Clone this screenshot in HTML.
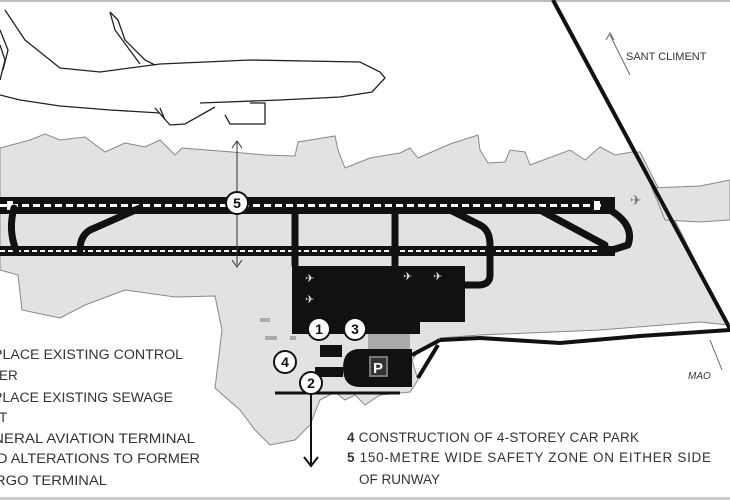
<!DOCTYPE html>
<html><head><meta charset="utf-8"><style>
html,body{margin:0;padding:0;background:#fff;width:730px;height:500px;overflow:hidden}
svg{display:block}
text{font-family:"Liberation Sans",sans-serif;fill:#333}
</style></head><body>
<svg width="730" height="500" viewBox="0 0 730 500" xmlns="http://www.w3.org/2000/svg">
<rect x="0" y="0" width="730" height="2" fill="#bbb"/>
<rect x="0" y="497" width="730" height="3" fill="#ccc"/>
<path d="M0,148 L30,140 L45,134 L60,140 L85,137 L105,152 L125,143 L145,147 L160,140 L175,155 L182,148 L232,152 L265,155 L295,156 L298,142 L335,136 L338,150 L345,168 L370,158 L400,153 L410,148 L418,158 L450,144 L478,135 L480,150 L488,163 L505,162 L510,150 L525,152 L530,165 L570,150 L585,160 L600,147 L615,155 L632,152 L640,152 L728,325 L700,322 L600,330 L480,335 L440,338 L420,350 L412,360 L418,380 L410,392 L380,395 L365,405 L355,395 L345,400 L335,392 L320,400 L310,425 L295,440 L270,445 L255,430 L240,410 L215,388 L222,330 L215,296 L175,297 L125,290 L85,305 L60,318 L22,310 L18,275 L0,270 Z" fill="#e2e2e2" stroke="#888" stroke-width="1"/>
<path d="M652,188 L700,186 L730,180 L730,220 L700,222 L665,220 Z" fill="#e2e2e2" stroke="#888"/>
<rect x="0" y="197" width="615" height="17" fill="#111"/>
<line x1="0" y1="205.5" x2="605" y2="205.5" stroke="#fff" stroke-width="3" stroke-dasharray="7,4"/>
<rect x="7" y="201" width="6" height="9" fill="#fff"/>
<rect x="594" y="201" width="6" height="9" fill="#fff"/>
<rect x="0" y="246" width="615" height="10" fill="#111"/>
<line x1="0" y1="251" x2="600" y2="251" stroke="#fff" stroke-width="2" stroke-dasharray="5,3"/>
<g fill="none" stroke="#111" stroke-width="7" stroke-linejoin="round" stroke-linecap="round">
<path d="M14,208 Q8,230 16,250"/>
<path d="M140,208 L90,230 Q80,236 80,250"/>
<path d="M295,210 L295,265"/>
<path d="M395,210 L395,265"/>
<path d="M450,210 L480,225 Q490,230 490,245 L490,275 Q490,285 478,285 L465,285"/>
<path d="M540,210 L605,245"/>
<path d="M610,210 Q635,225 628,245 L612,250"/>
</g>
<line x1="553" y1="0" x2="728" y2="325" stroke="#111" stroke-width="4"/>
<line x1="728" y1="325" x2="730" y2="330" stroke="#111" stroke-width="4"/>
<path d="M440,340 L480,338 L560,343 L640,336 L730,330" fill="none" stroke="#111" stroke-width="4"/>
<path d="M412,355 L440,340 M418,378 L438,345" stroke="#111" stroke-width="4" fill="none"/>
<rect x="292" y="266" width="173" height="56" fill="#111"/>
<rect x="292" y="320" width="128" height="14" fill="#111"/>
<rect x="368" y="334" width="42" height="16" fill="#aaa"/>
<path d="M360,349 L412,349 L412,387 L360,387 Q343,387 343,368 Q343,349 360,349 Z" fill="#111"/>
<rect x="370" y="357" width="17" height="19" fill="#333" stroke="#777" stroke-width="2"/>
<text x="373" y="373" style="fill:#fff;font-weight:bold;font-size:15px">P</text>
<rect x="320" y="345" width="22" height="12" fill="#111"/>
<rect x="315" y="367" width="28" height="10" fill="#111"/>
<rect x="260" y="318" width="10" height="4" fill="#aaa"/><rect x="265" y="336" width="12" height="4" fill="#aaa"/><rect x="290" y="336" width="6" height="4" fill="#aaa"/>
<line x1="275" y1="393" x2="400" y2="393" stroke="#111" stroke-width="3"/>
<text x="305" y="282" style="fill:#ddd;font-size:11px">✈</text><text x="305" y="303" style="fill:#ddd;font-size:11px">✈</text><text x="403" y="280" style="fill:#ddd;font-size:11px">✈</text><text x="433" y="280" style="fill:#ddd;font-size:11px">✈</text>
<text x="630" y="205" style="fill:#777;font-size:14px">✈</text>
<line x1="237" y1="142" x2="237" y2="265" stroke="#333" stroke-width="1"/>
<path d="M232,148 L237,141 L242,148 M232,260 L237,267 L242,260" fill="none" stroke="#333"/>
<line x1="311" y1="390" x2="311" y2="465" stroke="#111" stroke-width="2"/>
<path d="M304,457 L311,466 L318,457" fill="none" stroke="#111" stroke-width="2"/>
<line x1="610" y1="35" x2="630" y2="75" stroke="#666"/>
<path d="M606,40 L610,33 L614,40" fill="none" stroke="#666"/>
<line x1="710" y1="340" x2="722" y2="370" stroke="#666"/>
<text x="626" y="60" style="font-size:11px">SANT CLIMENT</text>
<text x="688" y="379" style="font-size:10px;font-style:italic">MAO</text>
<g stroke="#111" stroke-width="2" fill="#fff">
<circle cx="237" cy="203" r="11"/><circle cx="319" cy="329" r="11"/><circle cx="355" cy="329" r="11"/><circle cx="285" cy="362" r="11"/><circle cx="311" cy="383" r="11"/>
</g>
<g style="font-weight:bold;font-size:14px" text-anchor="middle">
<text x="237" y="208" style="fill:#111">5</text><text x="319" y="334" style="fill:#111">1</text><text x="355" y="334" style="fill:#111">3</text><text x="285" y="367" style="fill:#111">4</text><text x="311" y="388" style="fill:#111">2</text>
</g>
<g fill="none" stroke="#222" stroke-width="1.3">
<path d="M5,10 L25,40 L60,68 L100,72 L160,64 L250,60 L360,62 L380,72 L385,78 L372,92 L340,97 L280,100 L200,103"/>
<path d="M0,95 L20,100 L60,106 L110,110 L160,113"/>
<path d="M110,12 L118,20 L125,40 L145,60 L155,65 M110,12 L115,30 L140,64"/>
<path d="M155,108 L170,125 L185,124 L215,107 M160,108 L165,120"/>
<path d="M225,115 L230,124 L265,124 L265,103 L250,103"/>
<path d="M0,45 L5,60 L0,80 M0,30 L8,50 L3,70"/>
</g>
<g style="font-size:13.5px">
<text x="-7" y="359" textLength="190" lengthAdjust="spacingAndGlyphs">PLACE EXISTING CONTROL</text>
<text x="-1" y="380">ER</text>
<text x="-7" y="402" textLength="180" lengthAdjust="spacingAndGlyphs">PLACE EXISTING SEWAGE</text>
<text x="-1" y="422">T</text>
<text x="-7" y="443" textLength="202" lengthAdjust="spacingAndGlyphs">NERAL AVIATION TERMINAL</text>
<text x="-3" y="463" textLength="203" lengthAdjust="spacingAndGlyphs">D ALTERATIONS TO FORMER</text>
<text x="-5" y="485" textLength="112" lengthAdjust="spacingAndGlyphs">RGO TERMINAL</text>
<text x="347" y="442" textLength="292"><tspan style="font-weight:bold">4</tspan> CONSTRUCTION OF 4-STOREY CAR PARK</text>
<text x="347" y="462" textLength="364"><tspan style="font-weight:bold">5</tspan> 150-METRE WIDE SAFETY ZONE ON EITHER SIDE</text>
<text x="359" y="484">OF RUNWAY</text>
</g>
</svg>
</body></html>
